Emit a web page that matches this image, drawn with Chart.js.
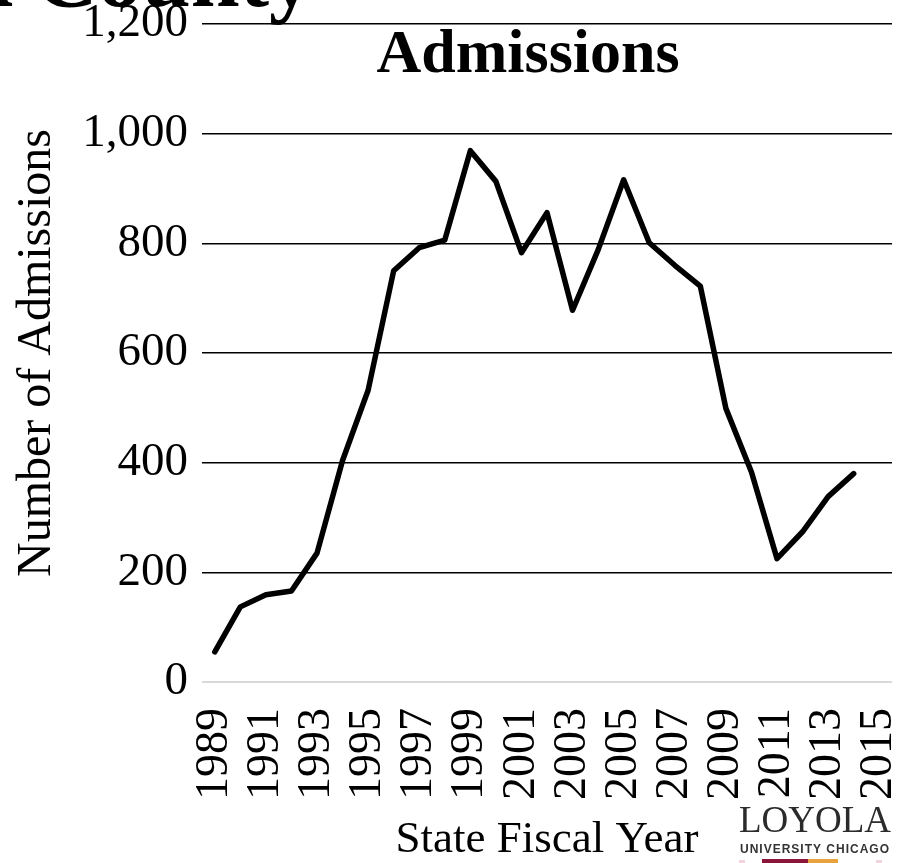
<!DOCTYPE html>
<html>
<head>
<meta charset="utf-8">
<title>Admissions</title>
<script src="https://cdn.jsdelivr.net/npm/chart.js@4"></script>
<style>
  html, body { margin: 0; padding: 0; background: #fff; }
  #wrap { position: relative; width: 905px; height: 863px; overflow: hidden; }
</style>
</head>
<body>
<div id="wrap"><canvas id="chart-admissions"></canvas></div>
<script>
// fiscal years on the category axis (1989 - 2015)
const years = [
  "1989", "1990", "1991", "1992", "1993", "1994", "1995", "1996", "1997",
  "1998", "1999", "2000", "2001", "2002", "2003", "2004", "2005", "2006",
  "2007", "2008", "2009", "2010", "2011", "2012", "2013", "2014", "2015",
];
// admissions per year (no value for 2015)
const admissions = [
  55, 137, 159, 166, 235, 404, 532, 750, 792,
  806, 969, 913, 783, 856, 678, 788, 916, 801,
  760, 722, 499, 383, 225, 274, 338, 380,
];
const tickYears = [
  "1989", "1991", "1993", "1995", "1997", "1999", "2001",
  "2003", "2005", "2007", "2009", "2011", "2013", "2015",
];
const yTicks = [0, 200, 400, 600, 800, 1000, 1200];

const SERIF = "'Liberation Serif', 'Times New Roman', serif";

// titles and the slide bits around the chart
const textPlugin = {
  id: "slideText",
  afterDraw(chart) {
    const { ctx, chartArea } = chart;
    ctx.save();
    ctx.fillStyle = "#000";

    // slide heading, cut off at the top of the picture
    ctx.font = "bold 88px " + SERIF;
    ctx.textAlign = "right";
    ctx.textBaseline = "alphabetic";
    ctx.fillText("Cook County", 313, 6);

    ctx.font = "bold 62px " + SERIF;
    ctx.textAlign = "center";
    ctx.fillText("Admissions", 528, 72);

    ctx.font = "45px " + SERIF;
    ctx.fillText("State Fiscal Year", (chartArea.left + chartArea.right) / 2, 852);

    ctx.save();
    ctx.translate(50, (chartArea.top + chartArea.bottom) / 2);
    ctx.rotate(-Math.PI / 2);
    ctx.font = "48px " + SERIF;
    ctx.fillText("Number of Admissions", 0, 0);
    ctx.restore();

    // university logo, bottom right
    ctx.fillStyle = "#2b2b2b";
    ctx.font = "37px " + SERIF;
    ctx.fillText("LOYOLA", 815, 832);
    ctx.font = "bold 12px 'Liberation Sans', Arial, sans-serif";
    ctx.fillStyle = "#333";
    if ("letterSpacing" in ctx) ctx.letterSpacing = "1px";
    ctx.fillText("UNIVERSITY CHICAGO", 815, 853);
    ctx.fillStyle = "#f3d3dc";
    ctx.fillRect(739, 860, 6, 3);
    ctx.fillStyle = "#8a1538";
    ctx.fillRect(762, 859, 46, 4);
    ctx.fillStyle = "#e8a33d";
    ctx.fillRect(808, 859, 30, 4);
    ctx.fillStyle = "#f3d3dc";
    ctx.fillRect(876, 860, 6, 3);
    ctx.restore();
  },
};

const ctx = document.getElementById("chart-admissions");

new Chart(ctx, {
  type: "line",
  data: {
    labels: years,
    datasets: [
      {
        label: "Admissions",
        data: admissions,
        borderColor: "#000",
        borderWidth: 5.5,
        borderJoinStyle: "round",
        borderCapStyle: "round",
        pointRadius: 0,
        tension: 0,
        fill: false,
      },
    ],
  },
  options: {
    responsive: true,
    maintainAspectRatio: false,
    animation: false,
    layout: { padding: { top: 24, right: 13, left: 0, bottom: 0 } },
    plugins: {
      legend: { display: false },
      title: { display: false },
      tooltip: { enabled: false },
    },
    scales: {
      x: {
        type: "category",
        offset: true,
        grid: { display: false, drawTicks: false },
        border: { display: false },
        ticks: {
          autoSkip: false,
          minRotation: 90,
          maxRotation: 90,
          padding: 26,
          color: "#000",
          font: { family: SERIF, size: 46 },
          callback: function (value, index) {
            const label = this.getLabelForValue(value);
            return tickYears.includes(label) ? label : "";
          },
        },
        afterFit: (scale) => {
          scale.height = 181;
          scale.paddingLeft = 0;
          scale.paddingRight = 0;
        },
      },
      y: {
        min: 0,
        max: 1200,
        afterBuildTicks: (scale) => {
          scale.ticks = yTicks.map((v) => ({ value: v }));
        },
        grid: {
          drawTicks: false,
          color: (c) => (c.tick && c.tick.value === 0 ? "#d9d9d9" : "#000"),
          lineWidth: (c) => (c.tick && c.tick.value === 0 ? 2 : 1.5),
        },
        border: { display: false },
        ticks: {
          padding: 14,
          color: "#000",
          font: { family: SERIF, size: 47 },
          callback: (value) => value.toLocaleString("en-US"),
        },
        afterFit: (scale) => {
          scale.width = 202;
          scale.paddingTop = 0;
          scale.paddingBottom = 0;
        },
      },
    },
  },
  plugins: [textPlugin],
});
</script>
</body>
</html>
